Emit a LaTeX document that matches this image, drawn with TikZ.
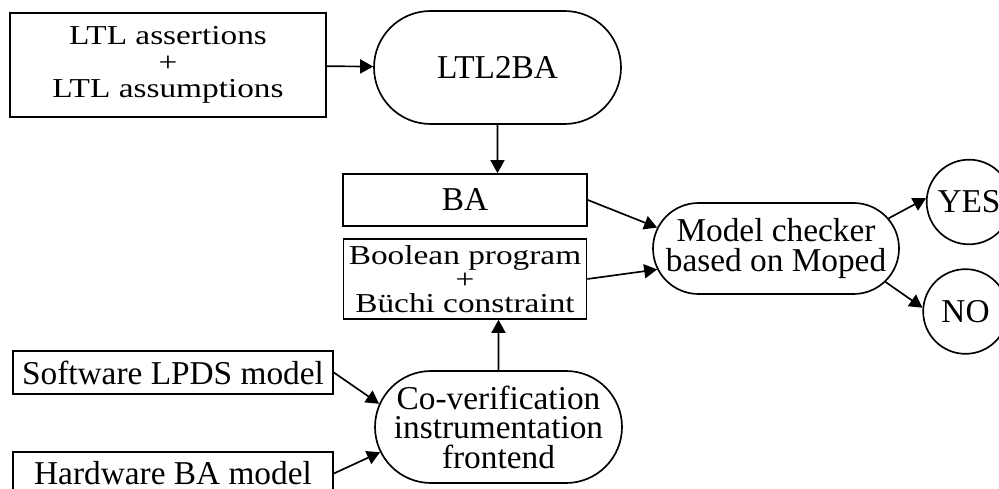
\documentclass[tikz,border=0pt]{standalone}
\usepackage{fontspec}
\usepackage{graphicx}
\setmainfont{Liberation Serif}
\usetikzlibrary{shapes.misc,arrows.meta}

\newcommand{\squash}[1]{\scalebox{1}[0.82]{#1}}
\newcommand{\tightlines}{\setlength{\lineskiplimit}{-5pt}}

\begin{document}
\begin{tikzpicture}[x=0.3pt, y=-0.3pt, line width=0.5pt,
    box/.style={draw, rectangle, inner sep=0pt, align=center},
    pill/.style={draw, rounded rectangle, inner sep=0pt, align=center},
    ball/.style={draw, circle, inner sep=0pt, minimum size=25.4pt},
    >={Triangle[length=3.9pt, width=4.2pt]}]
    \useasboundingbox (0, 0) rectangle (999, 489);
    \node[box, minimum width=94.8pt, minimum height=31.2pt, font={\fontsize{10pt}{7.95pt}\selectfont\tightlines}] (spec) at (168, 65) {\squash{LTL assertions}\\\squash{+}\\\squash{LTL assumptions}};
    \node[pill, minimum width=74.1pt, minimum height=33.9pt] (ltl2ba) at (497.5, 67.5) {LTL2BA};
    \node[box, minimum width=73.2pt, minimum height=15.6pt] (ba) at (465, 200) {BA};
    \node[box, minimum width=72.9pt, minimum height=24pt, font={\fontsize{10pt}{7.2pt}\selectfont\tightlines}] (prog) at (465, 279) {\squash{Boolean program}\\\squash{+}\\\squash{Büchi constraint}};
    \node[box, minimum width=96pt, minimum height=12.9pt] (sw) at (173, 372.5) {Software LPDS model};
    \node[box, minimum width=96pt, minimum height=12.9pt] (hw) at (173, 473.5) {Hardware BA model};
    \node[pill, minimum width=74.1pt, minimum height=33.6pt, font=\fontsize{10pt}{8.85pt}\selectfont] (cover) at (498.5, 427) {Co-verification\\instrumentation\\frontend};
    \node[pill, minimum width=73.8pt, minimum height=27.3pt, font=\fontsize{10pt}{9pt}\selectfont] (mc) at (776, 248.5) {Model checker\\based on Moped};
    \node[ball] (yes) at (969, 202) {YES};
    \node[ball] (no) at (965.5, 311.5) {NO};
    \draw[->] (spec) -- (ltl2ba);
    \draw[->] (ltl2ba) -- (ltl2ba |- ba.north);
    \draw[->] (cover) -- (cover |- prog.south);
    \draw[->] (ba.east) -- (mc.170);
    \draw[->] (prog.east) -- (mc.190);
    \draw[->] (mc.15) -- (yes.175);
    \draw[->] (mc.-17) -- (no.175);
    \draw[->] (sw.east) -- (cover.169);
    \draw[->] (hw.east) -- (cover.192);
\end{tikzpicture}
\end{document}
